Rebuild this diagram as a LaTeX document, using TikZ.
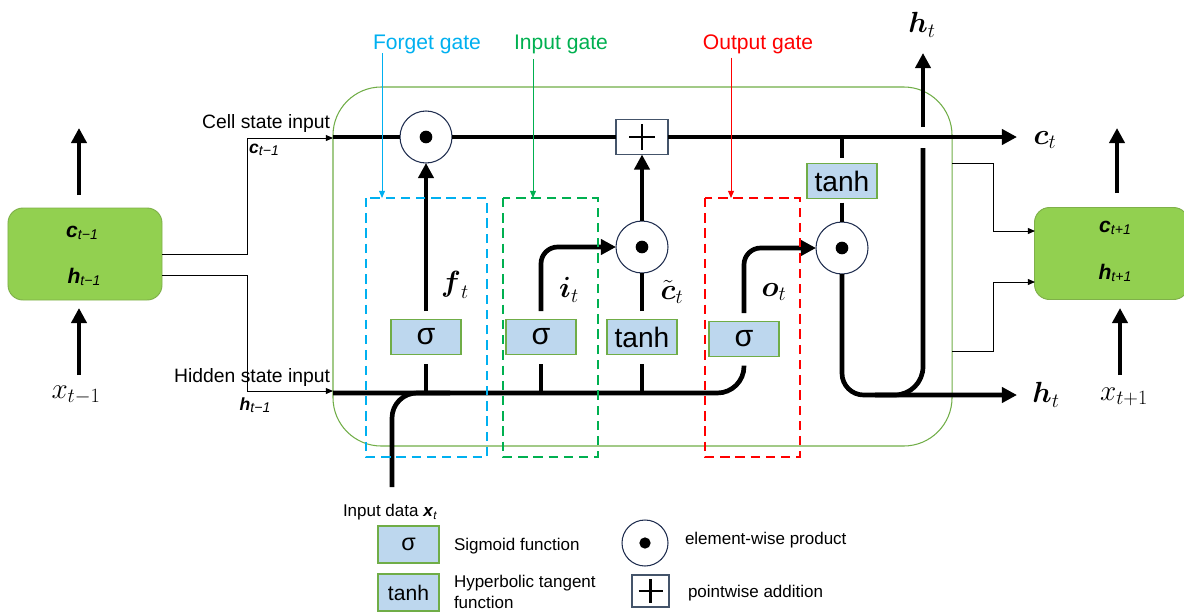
\documentclass[tikz,border=0pt]{standalone}
\usepackage{amsmath}
\usepackage{fontspec}
\setmainfont{Liberation Sans}
\usetikzlibrary{arrows.meta,calc}
\definecolor{stategreen}{HTML}{92D050}
\definecolor{stateline}{HTML}{7FB04A}
\definecolor{contgreen}{HTML}{70AD47}
\definecolor{funcfill}{HTML}{BDD7EE}
\definecolor{boxline}{HTML}{70AD47}
\definecolor{navy}{HTML}{1F2D4F}
\definecolor{slate}{HTML}{44546A}
\definecolor{cfor}{HTML}{00B0F0}
\definecolor{cin}{HTML}{00B050}
\definecolor{cout}{HTML}{FF0000}
\newcommand{\myfs}[1]{\fontsize{#1}{#1}\selectfont}
\newcommand{\stlab}[3]{{\myfs{#3}\textbf{\textit{#1}}}\raisebox{-0.4ex}{\myfs{12pt}\textit{#2}}}
\begin{document}
\begin{tikzpicture}[x=0.03cm,y=-0.03cm,
  every node/.style={inner sep=0pt,outer sep=0pt},
  thk/.style={line width=4pt},
  bigarrow/.style={line width=4pt,-{Triangle[length=13pt,width=13pt]}},
  thinarrow/.style={line width=0.8pt,-{Triangle[length=6pt,width=5pt]}},
  funcbox/.style={draw=boxline,fill=funcfill,line width=1pt,minimum width=2.1cm,minimum height=1.05cm},
  prod/.style={circle,draw=navy,fill=white,line width=0.9pt,minimum size=1.56cm},
  addbox/.style={draw=slate,fill=white,line width=1pt,minimum width=1.56cm,minimum height=1.05cm},
  state/.style={draw=stateline,fill=stategreen,rounded corners=0.45cm,line width=0.8pt,minimum width=4.62cm,minimum height=2.76cm},
  gatedash/.style={line width=2pt,dash pattern=on 8pt off 5pt},
  lbl/.style={font=\myfs{16.5pt}},
  glbl/.style={font=\myfs{18pt}},
  leg/.style={font=\fontsize{14.5pt}{17.5pt}\selectfont,anchor=west,align=left},
  mth/.style={font=\myfs{25pt}}
]
\useasboundingbox (0,0) rectangle (1184,612);

% ---------- main container ----------
\node[draw=contgreen,line width=0.9pt,rounded corners=1.45cm,minimum width=18.57cm,minimum height=10.77cm] (cell) at (642.5,266.5) {};

% ---------- state boxes ----------
\node[state] (lbox) at (85,254) {};
\node (lc) at (82,233) {\stlab{c}{t−1}{18pt}};
\node (lh) at (84,277) {\stlab{h}{t−1}{18pt}};
\node[state] (rbox) at (1111.5,253.5) {};
\node (rc) at (1115,228) {\stlab{c}{t+1}{18pt}};
\node (rh) at (1115,273) {\stlab{h}{t+1}{18pt}};

% outer arrows
\coordinate (la0) at (79,195); \coordinate (la1) at (79,128);
\draw[bigarrow] (la0) -- (la1);
\node[mth] (xl) at (76,395) {$x_{t-1}$};
\coordinate (lb0) at (79,375); \coordinate (lb1) at (79,308);
\draw[bigarrow] (lb0) -- (lb1);
\coordinate (ra0) at (1117,193); \coordinate (ra1) at (1117,128);
\draw[bigarrow] (ra0) -- (ra1);
\node[mth] (xr) at (1124,397) {$x_{t+1}$};
\coordinate (rb0) at (1120,375); \coordinate (rb1) at (1120,308);
\draw[bigarrow] (rb0) -- (rb1);

% ---------- left inputs ----------
\coordinate (cin) at (333,138);
\coordinate (hin) at (333,391);
\draw[thinarrow] (lbox.east) -- (247,254) |- (cin);
\draw[thinarrow] ($(lbox.east)+(0,21)$) -- (247,275) |- (hin);
\node[lbl,anchor=east] (cellin) at (330,123) {Cell state input};
\node (cinl) at (264,150) {\stlab{c}{t−1}{15pt}};
\node[lbl,anchor=east] (hidin) at (330,377) {Hidden state input};
\node (hinl) at (255,405) {\stlab{h}{t−1}{15pt}};

% ---------- function nodes ----------
\node[prod] (fprod) at (426,137) {};
\node[addbox] (plus) at (642,137) {};
\node[prod] (iprod) at (642,247) {};
\node[prod] (oprod) at (842,248) {};
\node[funcbox] (sigF) at (426,337) {\myfs{26pt}σ};
\node[funcbox] (sigI) at (541,337) {\myfs{26pt}σ};
\node[funcbox] (tanhC) at (642,337) {\myfs{24pt}tanh};
\node[funcbox] (sigO) at (744,339) {\myfs{26pt}σ};
\node[funcbox] (tanhO) at (842,181) {\myfs{24pt}tanh};
\foreach \n in {fprod,iprod,oprod} \fill (\n.center) circle (0.19cm);
\draw[line width=2pt] ($(plus.center)+(-13,0)$) -- ($(plus.center)+(13,0)$)
      ($(plus.center)+(0,-13)$) -- ($(plus.center)+(0,13)$);

% ---------- cell state line ----------
\coordinate (c0) at (333,137);
\coordinate (cend) at (1017,137);
\draw[thk] (c0) -- (fprod);
\draw[thk] (fprod) -- (plus);
\draw[bigarrow] (plus) -- (cend);
\node[mth] (ctl) at (1045,140) {$\boldsymbol{c}_t$};

% ---------- hidden state line ----------
\coordinate (h0) at (333,393);
\draw[thk,rounded corners=0.8cm,shorten >=0.27cm] (h0) -- (sigO.south |- h0) -- (sigO.south);
\coordinate (xbot) at (392,487);
\draw[thk,rounded corners=0.75cm] (xbot) -- (392,393) -- (450,393);
\foreach \n in {sigF,sigI,tanhC} \draw[thk,shorten >=0.27cm] (\n.south |- h0) -- (\n.south);

% gate outputs
\draw[bigarrow,shorten <=0.25cm] (sigF.north) -- (fprod.south);
\node[mth] (ftl) at (455,285) {$\boldsymbol{f}_t$};
\draw[bigarrow,rounded corners=0.5cm,shorten <=0.25cm] (sigI.north) -- (sigI.north |- iprod) -- (iprod.west);
\node[mth] (itl) at (569,290) {$\boldsymbol{i}_t$};
\draw[thk,shorten <=0.25cm] (tanhC.north) -- (iprod.south);
\draw[bigarrow] (iprod.north) -- (plus.south);
\node[mth] (ctil) at (672,292) {$\tilde{\boldsymbol{c}}_t$};
\draw[bigarrow,rounded corners=0.5cm,shorten <=0.25cm] (sigO.north) -- (sigO.north |- oprod) -- (oprod.west);
\node[mth] (otl) at (774,292) {$\boldsymbol{o}_t$};

% output tanh
\draw[thk,shorten >=0.18cm] (tanhO.north |- c0) -- (tanhO.north);
\draw[thk,shorten <=0.12cm] (tanhO.south) -- (oprod.north);

% output hidden
\coordinate (hend) at (1017,395);
\draw[bigarrow,rounded corners=0.65cm] (oprod.south) -- (oprod.south |- hend) -- (hend);
\node[mth] (htl) at (1046,395) {$\boldsymbol{h}_t$};
\coordinate (up0) at (923,148);
\draw[thk,rounded corners=0.85cm] (875,395) -- (923,395) -- (up0);
\coordinate (up1) at (923,127); \coordinate (up2) at (923,53);
\draw[bigarrow] (up1) -- (up2);
\node[mth] (httl) at (922,25) {$\boldsymbol{h}_t$};

% ---------- right connectors ----------
\coordinate (rc0) at (952,163); \coordinate (rin1) at (1035,231);
\coordinate (rh0) at (952,351); \coordinate (rin2) at (1035,282);
\draw[thinarrow] (rc0) -- (993,163) |- (rin1);
\draw[thinarrow] (rh0) -- (993,351) |- (rin2);

% ---------- gate boxes ----------
\draw[gatedash,draw=cfor] (366,198) rectangle (487,457);
\draw[gatedash,draw=cin] (503,198) rectangle (598,457);
\draw[gatedash,draw=cout] (705,198) rectangle (800,457);
\node[glbl,text=cfor] (fgl) at (427,44) {Forget gate};
\node[glbl,text=cin] (igl) at (561,44) {Input gate};
\node[glbl,text=cout] (ogl) at (758,44) {Output gate};
\coordinate (fa) at (382,198); \coordinate (ia) at (533,198); \coordinate (oa) at (731,198);
\draw[thinarrow,cfor] (fgl.south -| fa) -- (fa);
\draw[thinarrow,cin] ($(igl.south -| ia)+(0,6)$) -- (ia);
\draw[thinarrow,cout] ($(ogl.south -| oa)+(0,4)$) -- (oa);

% ---------- legend ----------
\node[leg] (indata) at (343,512) {Input data \textbf{\textit{x}}\raisebox{-0.4ex}{\myfs{10pt}\textit{t}}};
\node[funcbox,minimum width=1.83cm,minimum height=1.11cm] (lsig) at (408.5,544.5) {\myfs{20pt}σ};
\node[leg] (lsigt) at (454,546) {Sigmoid function};
\node[funcbox,minimum width=1.83cm,minimum height=1.11cm] (ltanh) at (408.5,592.5) {\myfs{18pt}tanh};
\node[leg] (ltanht) at (454,592) {Hyperbolic tangent\\function};
\node[prod,minimum size=1.38cm] (lprod) at (645,543) {};
\fill (lprod.center) circle (0.17cm);
\node[leg] (lprodt) at (685,540) {element-wise product};
\node[addbox,minimum width=1.11cm,minimum height=0.96cm] (lplus) at (650.5,591) {};
\draw[line width=1.8pt] ($(lplus.center)+(-12,0)$) -- ($(lplus.center)+(12,0)$)
      ($(lplus.center)+(0,-12)$) -- ($(lplus.center)+(0,12)$);
\node[leg] (lplust) at (688,593) {pointwise addition};
\end{tikzpicture}
\end{document}
